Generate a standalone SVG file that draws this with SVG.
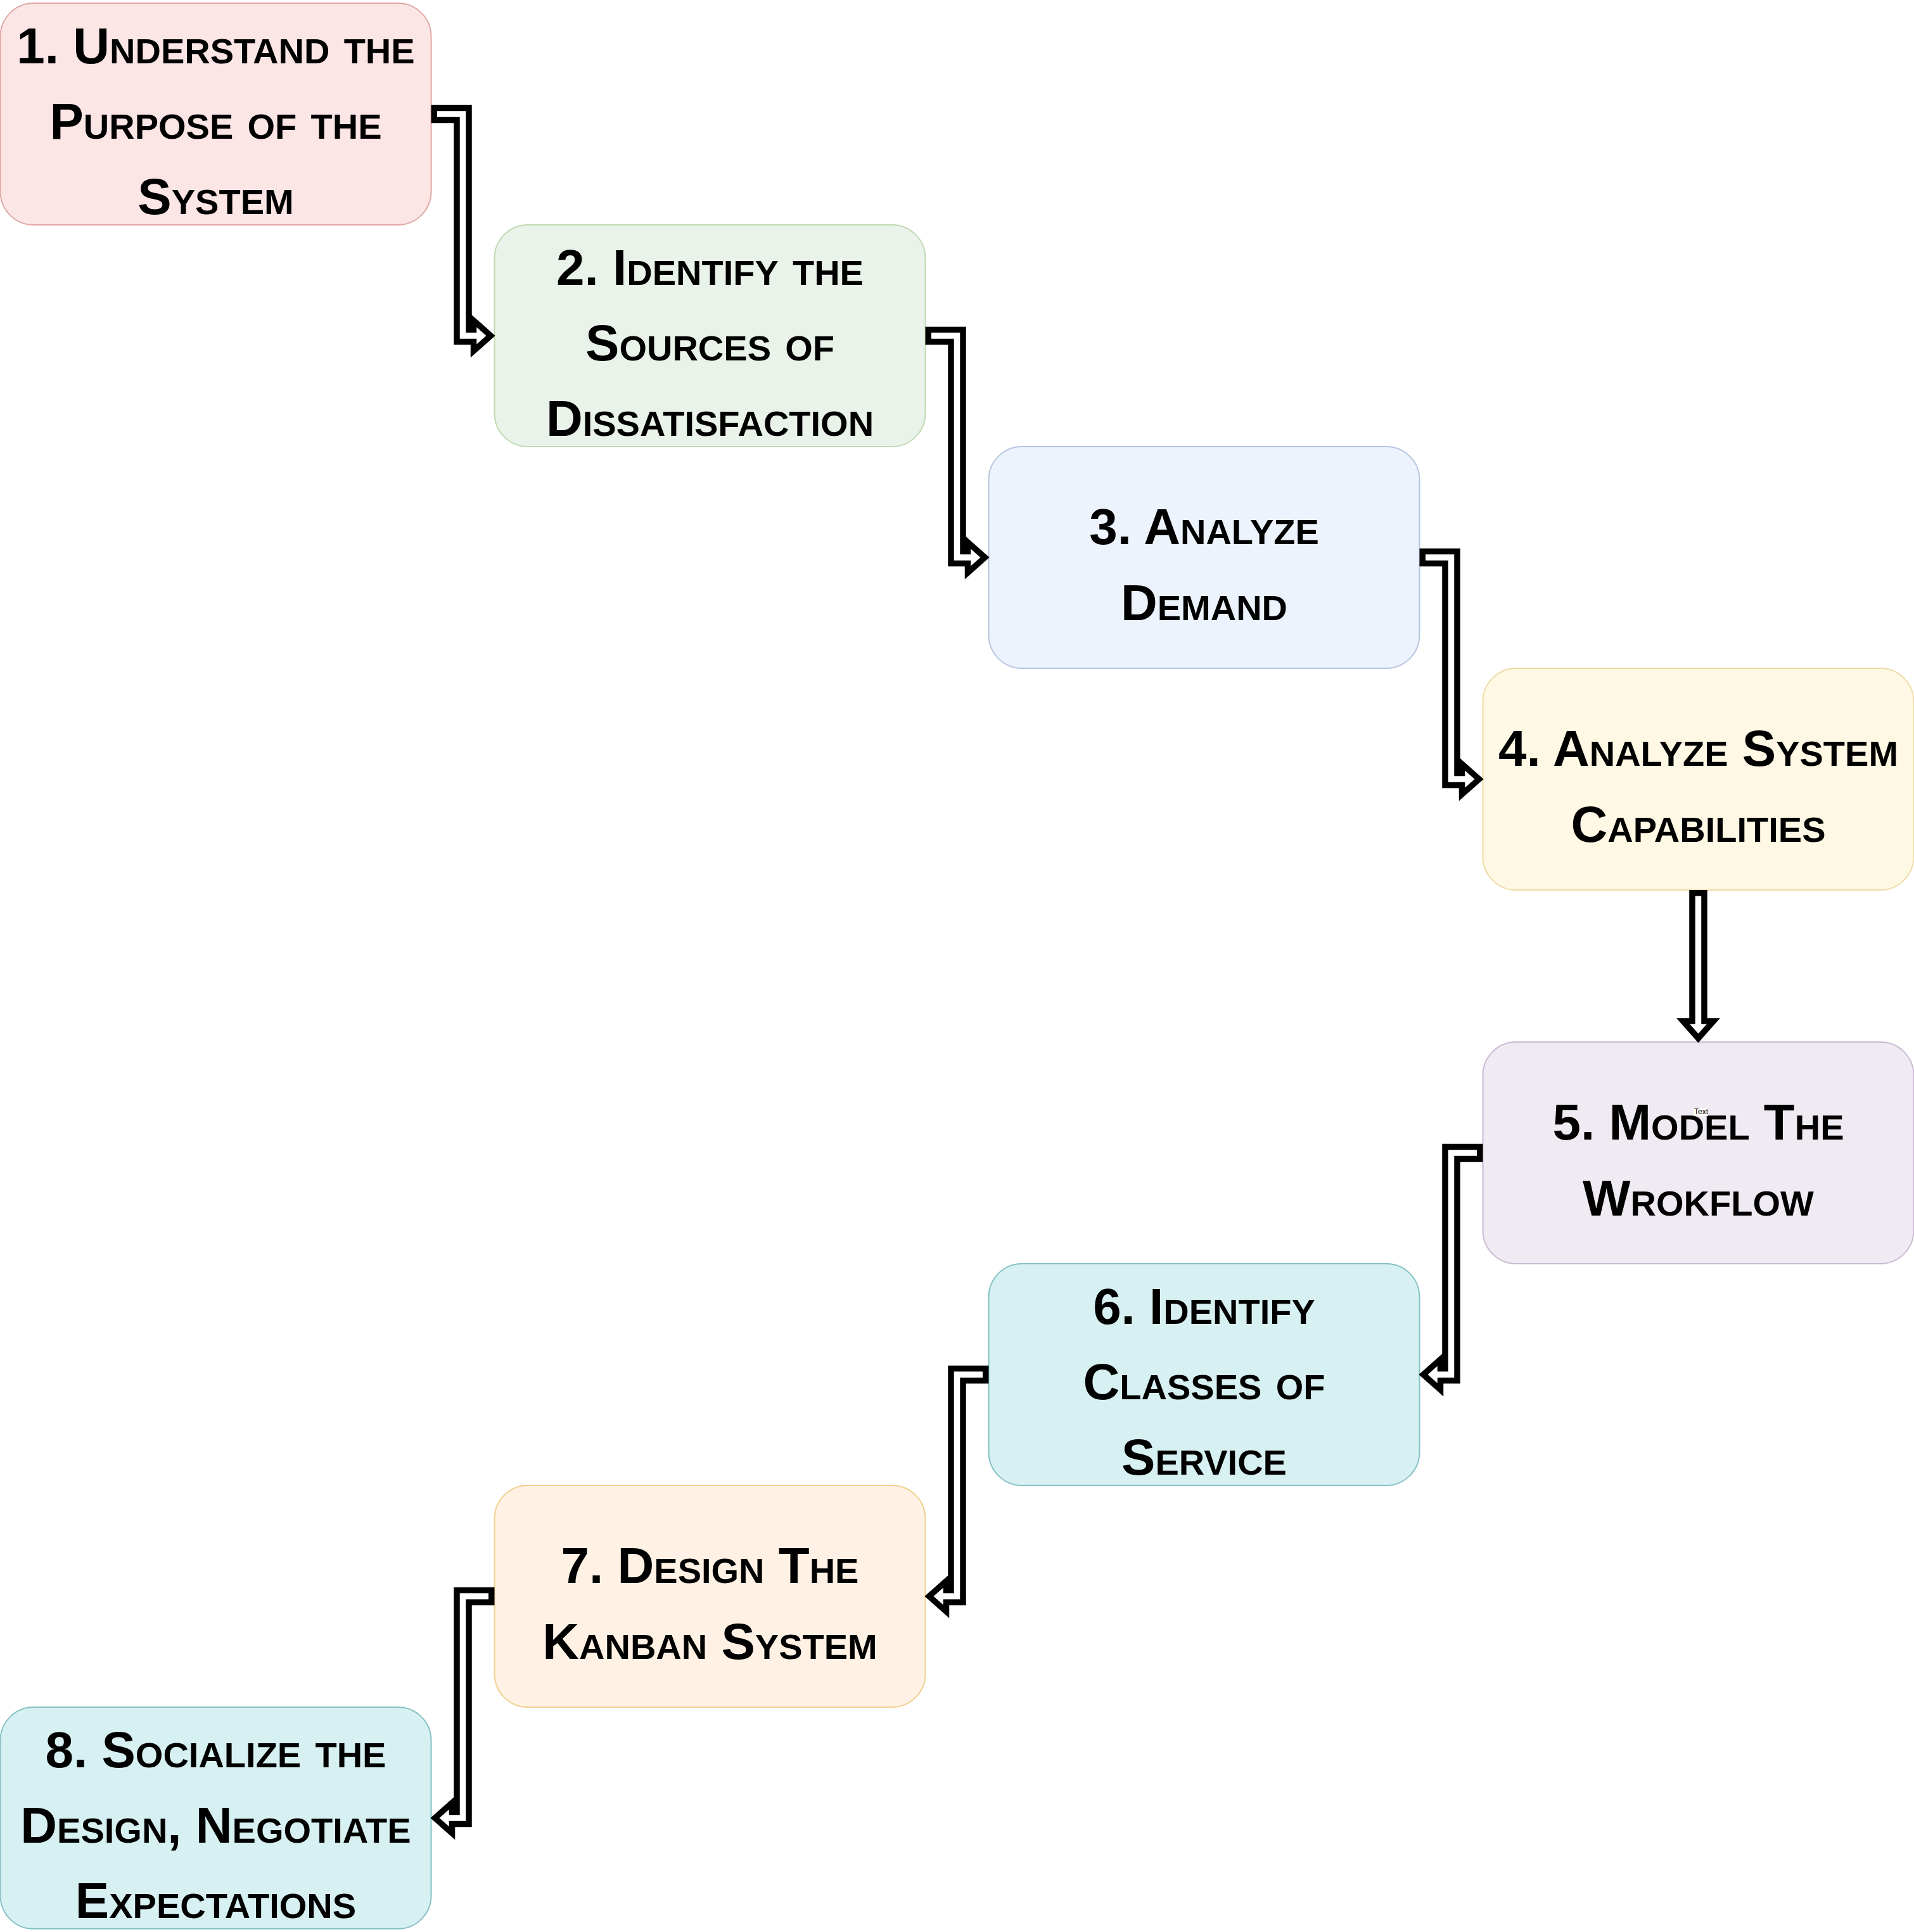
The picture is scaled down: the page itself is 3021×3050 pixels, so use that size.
<svg xmlns="http://www.w3.org/2000/svg" width="3021" height="3050" viewBox="0 0 3021 3050">
<style>
.box{stroke-width:2}
.n1{fill:#fbe6e5;stroke:#e0a8a6}
.n2{fill:#eaf3e9;stroke:#c0d9b2}
.n3{fill:#ecf3fd;stroke:#b5c6df}
.n4{fill:#fff8e5;stroke:#eedba6}
.n5{fill:#f0eaf3;stroke:#cab9d2}
.n6{fill:#d7f0f2;stroke:#86c1c4}
.n7{fill:#fff2e5;stroke:#f0cf8c}
.lbl{font-family:"Liberation Sans",Arial,sans-serif;font-weight:bold;font-size:80px;font-variant:small-caps;text-anchor:middle;fill:#000}
.tiny{font-family:"Liberation Sans",Arial,sans-serif;font-size:12px;text-anchor:middle;fill:#000}
.body{fill:none;stroke:#000;stroke-width:28.5;stroke-linejoin:miter;stroke-linecap:butt}
.chan{fill:none;stroke:#fff;stroke-width:9.5;stroke-linejoin:miter;stroke-linecap:butt}
.head{fill:#fff;stroke:#000;stroke-width:9.5;stroke-linejoin:miter}
</style>
<rect width="3021" height="3050" fill="#ffffff"/>
<g id="node1"><rect class="box n1" x="0.5" y="5" width="680" height="350" rx="52.5"/>
<text class="lbl" x="340.5" y="100">1. Understand the</text><text class="lbl" x="340.5" y="219">Purpose of the</text><text class="lbl" x="340.5" y="338">System</text></g>
<g id="node2"><rect class="box n2" x="780.5" y="355" width="680" height="350" rx="52.5"/>
<text class="lbl" x="1120.5" y="450">2. Identify the</text><text class="lbl" x="1120.5" y="569">Sources of</text><text class="lbl" x="1120.5" y="688">Dissatisfaction</text></g>
<g id="node3"><rect class="box n3" x="1560.5" y="705" width="680" height="350" rx="52.5"/>
<text class="lbl" x="1900.5" y="859">3. Analyze</text><text class="lbl" x="1900.5" y="979">Demand</text></g>
<g id="node4"><rect class="box n4" x="2340.5" y="1055" width="680" height="350" rx="52.5"/>
<text class="lbl" x="2680.5" y="1209">4. Analyze System</text><text class="lbl" x="2680.5" y="1329">Capabilities</text></g>
<g id="node5"><rect class="box n5" x="2340.5" y="1645" width="680" height="350" rx="52.5"/>
<text class="lbl" x="2680.5" y="1799">5. Model The</text><text class="lbl" x="2680.5" y="1919">Wrokflow</text>
<rect x="2674" y="1749" width="22" height="13" fill="#ffffff"/><text class="tiny" x="2685" y="1759">Text</text></g>
<g id="node6"><rect class="box n6" x="1560.5" y="1995" width="680" height="350" rx="52.5"/>
<text class="lbl" x="1900.5" y="2090">6. Identify</text><text class="lbl" x="1900.5" y="2209">Classes of</text><text class="lbl" x="1900.5" y="2328">Service</text></g>
<g id="node7"><rect class="box n7" x="780.5" y="2345" width="680" height="350" rx="52.5"/>
<text class="lbl" x="1120.5" y="2499">7. Design The</text><text class="lbl" x="1120.5" y="2619">Kanban System</text></g>
<g id="node8"><rect class="box n6" x="0.5" y="2695" width="680" height="350" rx="52.5"/>
<text class="lbl" x="340.5" y="2790">8. Socialize the</text><text class="lbl" x="340.5" y="2909">Design, Negotiate</text><text class="lbl" x="340.5" y="3028">Expectations</text></g>
<g id="connectors">
<g id="c1"><path class="body" d="M680.5 180H730.5V530H748"/><path class="head" d="M747.5 506L774.5 530L747.5 554Z"/><path class="chan" d="M690 180H730.5V530H753"/></g>
<g id="c2"><path class="body" d="M1460.5 530H1510.5V880H1528"/><path class="head" d="M1527.5 856L1554.5 880L1527.5 904Z"/><path class="chan" d="M1470 530H1510.5V880H1533"/></g>
<g id="c3"><path class="body" d="M2240.5 880H2290.5V1230H2308"/><path class="head" d="M2307.5 1206L2334.5 1230L2307.5 1254Z"/><path class="chan" d="M2250 880H2290.5V1230H2313"/></g>
<g id="c4"><path class="body" d="M2680.5 1405V1612"/><path class="head" d="M2656.5 1612L2680.5 1639L2704.5 1612Z"/><path class="chan" d="M2680.5 1414.5V1617"/></g>
<g id="c5"><path class="body" d="M2340.5 1820H2290.5V2170H2273"/><path class="head" d="M2273.5 2146L2246.5 2170L2273.5 2194Z"/><path class="chan" d="M2331 1820H2290.5V2170H2268"/></g>
<g id="c6"><path class="body" d="M1560.5 2170H1510.5V2520H1493"/><path class="head" d="M1493.5 2496L1466.5 2520L1493.5 2544Z"/><path class="chan" d="M1551 2170H1510.5V2520H1488"/></g>
<g id="c7"><path class="body" d="M780.5 2520H730.5V2870H713"/><path class="head" d="M713.5 2846L686.5 2870L713.5 2894Z"/><path class="chan" d="M771 2520H730.5V2870H708"/></g>
</g>
</svg>
